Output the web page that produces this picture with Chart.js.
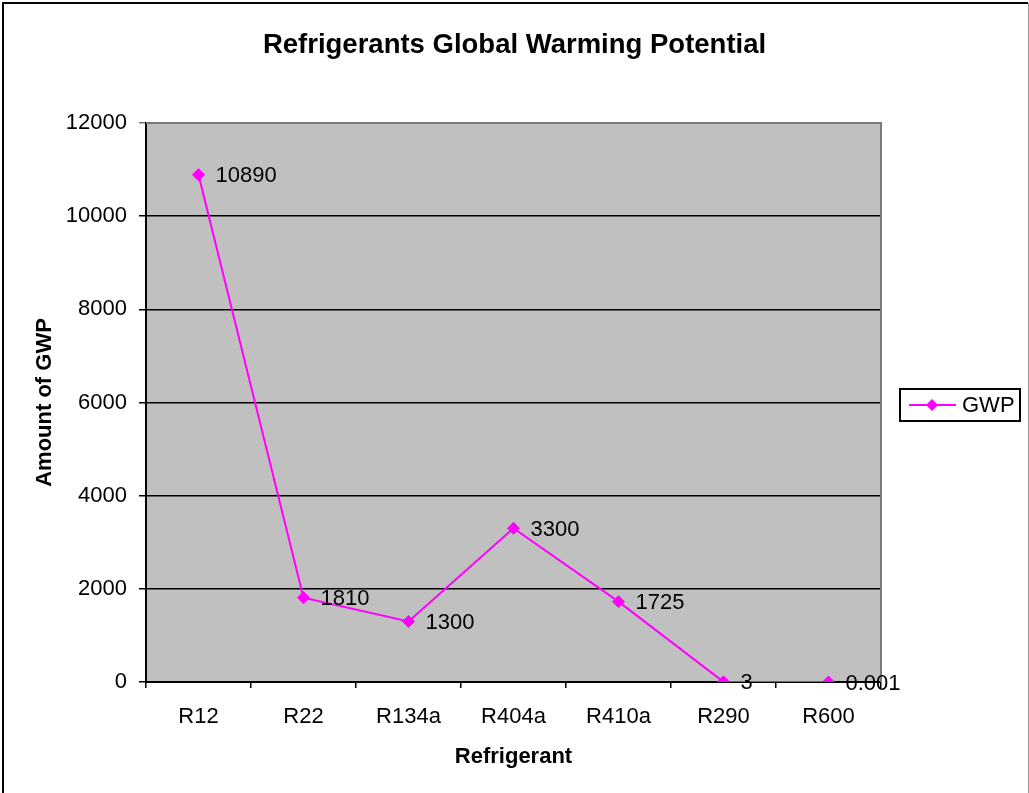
<!DOCTYPE html>
<html>
<head>
<meta charset="utf-8">
<title>Refrigerants Global Warming Potential</title>
<script src="https://cdn.jsdelivr.net/npm/chart.js@4/dist/chart.umd.min.js"></script>
<style>
    html, body { margin: 0; padding: 0; background: #fff; }
    canvas { display: block; }
</style>
</head>
<body>
<canvas id="gwp-chart" width="1029" height="793"></canvas>
<script>
const refrigerants = ['R12', 'R22', 'R134a', 'R404a', 'R410a', 'R290', 'R600'];
const gwpValues = [10890, 1810, 1300, 3300, 1725, 3, 0.001];
const gwpLabels = ['10890', '1810', '1300', '3300', '1725', '3', '0.001'];
const yTicks = [0, 2000, 4000, 6000, 8000, 10000, 12000];

const FONT = '"Liberation Sans", Arial, sans-serif';
const MAGENTA = '#FF00FF';

// gray plot area, frame of the picture, value labels and the boxed legend
const excelLook = {
    id: 'excelLook',
    beforeDraw(chart) {
        const { ctx, chartArea: a } = chart;
        ctx.save();
        ctx.fillStyle = '#C0C0C0';
        ctx.fillRect(a.left, a.top, a.right - a.left, a.bottom - a.top);
        // outer frame
        ctx.strokeStyle = '#000';
        ctx.lineWidth = 2;
        ctx.beginPath();
        ctx.moveTo(3, chart.height);
        ctx.lineTo(3, 3);
        ctx.lineTo(1028, 3);
        ctx.stroke();
        ctx.strokeStyle = '#999';
        ctx.lineWidth = 1;
        ctx.beginPath();
        ctx.moveTo(1028.5, 3);
        ctx.lineTo(1028.5, chart.height);
        ctx.stroke();
        ctx.restore();
    },
    beforeDatasetsDraw(chart) {
        const { ctx, chartArea: a } = chart;
        ctx.save();
        ctx.strokeStyle = '#7a7a7a';
        ctx.lineWidth = 2;
        ctx.beginPath();
        ctx.moveTo(a.left, a.top);
        ctx.lineTo(a.right, a.top);
        ctx.lineTo(a.right, a.bottom);
        ctx.stroke();
        ctx.restore();
    },
    afterDatasetsDraw(chart) {
        const { ctx } = chart;
        const meta = chart.getDatasetMeta(0);
        ctx.save();
        ctx.font = '22px ' + FONT;
        ctx.fillStyle = '#000';
        ctx.textBaseline = 'middle';
        ctx.textAlign = 'left';
        meta.data.forEach((pt, i) => {
            ctx.fillText(gwpLabels[i], pt.x + 17, pt.y + 1.5);
        });
        ctx.restore();
    },
    afterDraw(chart) {
        const { ctx } = chart;
        const ds = chart.data.datasets[0];
        const box = { x: 900, y: 389, w: 120, h: 32 };
        const cy = box.y + box.h / 2;
        ctx.save();
        ctx.fillStyle = '#fff';
        ctx.fillRect(box.x, box.y, box.w, box.h);
        ctx.strokeStyle = '#000';
        ctx.lineWidth = 2;
        ctx.strokeRect(box.x, box.y, box.w, box.h);
        ctx.strokeStyle = ds.borderColor;
        ctx.lineWidth = ds.borderWidth;
        ctx.beginPath();
        ctx.moveTo(909, cy);
        ctx.lineTo(956, cy);
        ctx.stroke();
        ctx.fillStyle = ds.pointBackgroundColor;
        ctx.beginPath();
        ctx.moveTo(932, cy - 6);
        ctx.lineTo(938, cy);
        ctx.lineTo(932, cy + 6);
        ctx.lineTo(926, cy);
        ctx.closePath();
        ctx.fill();
        ctx.fillStyle = '#000';
        ctx.font = '22px ' + FONT;
        ctx.textBaseline = 'middle';
        ctx.fillText(ds.label, 962, cy + 1);
        ctx.restore();
    }
};

new Chart(document.getElementById('gwp-chart').getContext('2d'), {
    type: 'line',
    data: {
        labels: refrigerants,
        datasets: [{
            label: 'GWP',
            data: gwpValues,
            borderColor: MAGENTA,
            borderWidth: 2,
            pointStyle: 'rectRot',
            pointRadius: 6,
            pointBackgroundColor: MAGENTA,
            pointBorderColor: MAGENTA,
            pointBorderWidth: 1,
            tension: 0,
            fill: false
        }]
    },
    options: {
        responsive: false,
        animation: false,
        events: [],
        layout: { padding: 0 },
        plugins: {
            legend: { display: false },
            tooltip: { enabled: false },
            title: {
                display: true,
                text: 'Refrigerants Global Warming Potential',
                color: '#000',
                font: { family: FONT, size: 27.5, weight: 'bold' },
                padding: { top: 29, bottom: 61 }
            }
        },
        scales: {
            x: {
                offset: true,
                grid: {
                    offset: true,
                    drawOnChartArea: false,
                    drawTicks: true,
                    tickLength: 6,
                    color: '#000',
                    lineWidth: 1.5
                },
                border: { color: '#000', width: 2 },
                ticks: {
                    color: '#000',
                    font: { family: FONT, size: 22 },
                    padding: 16,
                    maxRotation: 0
                },
                title: {
                    display: true,
                    text: 'Refrigerant',
                    color: '#000',
                    font: { family: FONT, size: 22, weight: 'bold' },
                    padding: { top: 0, bottom: 23 }
                },
                afterFit(scale) { scale.height = 111; }
            },
            y: {
                min: 0,
                max: 12000,
                afterBuildTicks(scale) { scale.ticks = yTicks.map(v => ({ value: v })); },
                grid: {
                    color: ctx => (ctx.tick && ctx.tick.value === 12000 ? '#7a7a7a' : '#000'),
                    lineWidth: 1.5,
                    tickLength: 7
                },
                border: { color: '#000', width: 2 },
                ticks: {
                    color: '#000',
                    font: { family: FONT, size: 22 },
                    padding: 12,
                    callback: v => String(v)
                },
                title: {
                    display: true,
                    text: 'Amount of GWP',
                    color: '#000',
                    font: { family: FONT, size: 22, weight: 'bold' },
                    padding: { top: 32, bottom: 0 }
                },
                afterFit(scale) { scale.width = 146; }
            },
            // empty right-hand scale only reserves room for the legend
            yRight: {
                position: 'right',
                display: true,
                grid: { display: false },
                border: { display: false },
                ticks: { display: false },
                afterFit(scale) { scale.width = 148; }
            }
        }
    },
    plugins: [excelLook]
});
</script>
</body>
</html>
